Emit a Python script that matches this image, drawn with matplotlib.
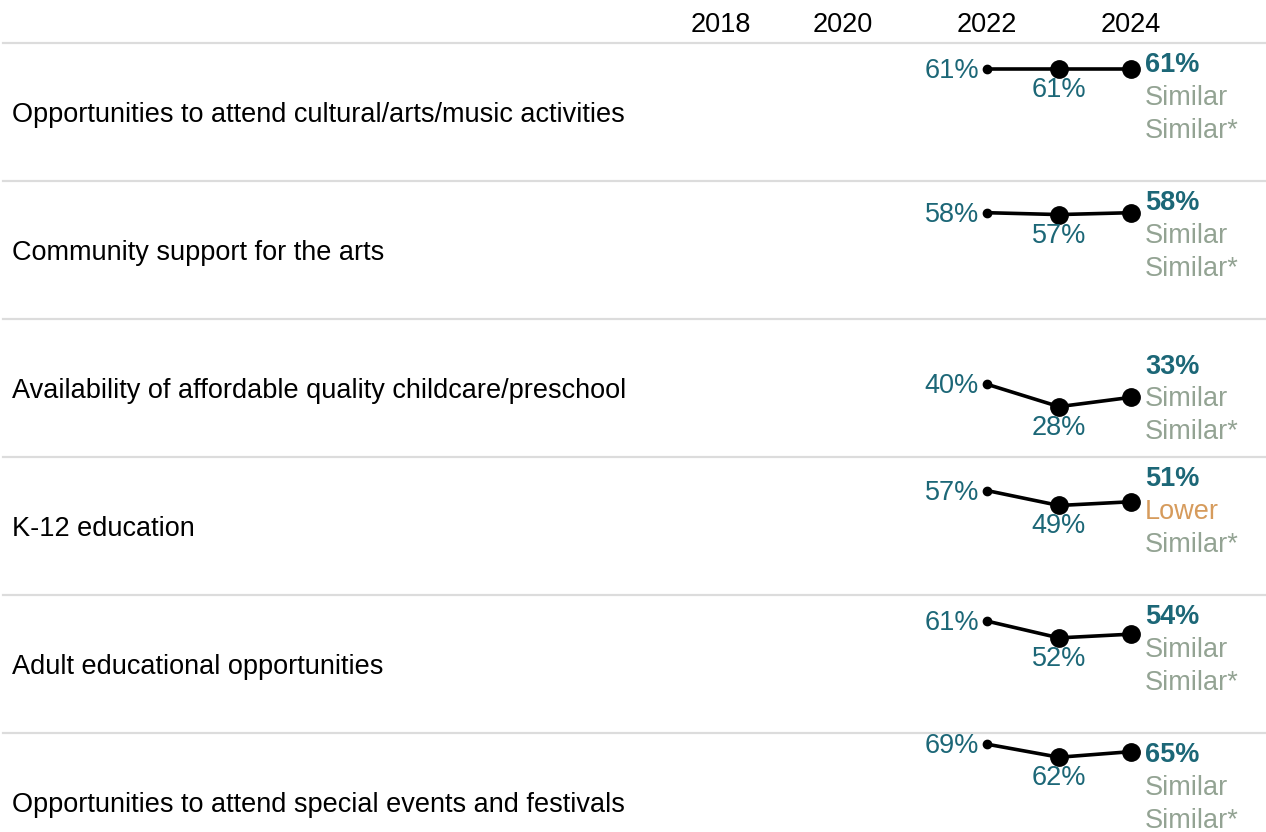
import matplotlib
matplotlib.use("Agg")
import matplotlib.pyplot as plt

plt.rcParams['font.family'] = ['Liberation Sans', 'DejaVu Sans']

categories = [
    "Opportunities to attend cultural/arts/music activities",
    "Community support for the arts",
    "Availability of affordable quality childcare/preschool",
    "K-12 education",
    "Adult educational opportunities",
    "Opportunities to attend special events and festivals",
]
years = [2022, 2023, 2024]
header_years = [2018, 2020, 2022, 2024]
v2022 = [61, 58, 40, 57, 61, 69]
v2023 = [61, 57, 28, 49, 52, 62]
v2024 = [61, 58, 33, 51, 54, 65]
comp1 = ["Similar", "Similar", "Similar", "Lower", "Similar", "Similar"]
comp2 = ["Similar*", "Similar*", "Similar*", "Similar*", "Similar*", "Similar*"]

W, H = 1266, 832
DPI = 100
fig = plt.figure(figsize=(W / DPI, H / DPI), dpi=DPI)

TEAL = "#1c6777"
GRAY = "#93a393"
ORANGE = "#d69b5c"
GRID = "#dcdcdc"
FS = 19.5

px_per_year = 72.0
x2022 = 987.0
xmin = 2022 - x2022 / px_per_year
xmax = xmin + W / px_per_year

header_h = 43
row_h = 138
ylo, yhi = 1.0, 75.0
px_per_unit = row_h / (yhi - ylo)
PT = 72 / DPI  # points per pixel

# Header axes
hax = fig.add_axes([0, (H - header_h) / H, 1, header_h / H])
hax.set_xlim(xmin, xmax)
hax.set_ylim(0, 1)
hax.axis('off')
for yr in header_years:
    if yr == header_years[0]:
        hax.annotate(str(yr), (yr, 0.5), xytext=(-8 * PT, -3 * PT), textcoords='offset points',
                     ha='left', va='center', fontsize=FS, color='black')
    else:
        hax.annotate(str(yr), (yr, 0.5), xytext=(0, -3 * PT), textcoords='offset points',
                     ha='center', va='center', fontsize=FS, color='black')

line_off_pt = 32.5 * PT

for i, cat in enumerate(categories):
    top = header_h + i * row_h
    bottom_frac = (H - top - row_h) / H
    ax = fig.add_axes([0, bottom_frac, 1, row_h / H])
    ax.set_xlim(xmin, xmax)
    ax.set_ylim(ylo, yhi)
    ax.axis('off')
    ax.axhline(yhi, color=GRID, lw=1.6, xmin=0.002, xmax=1, clip_on=False)
    ax.annotate(cat, (xmin, (ylo + yhi) / 2), xytext=(12 * PT, -3 * PT),
                textcoords='offset points', ha='left', va='center',
                fontsize=FS, color='black')
    vals = [v2022[i], v2023[i], v2024[i]]
    ax.plot(years, vals, color='black', lw=2.6, solid_capstyle='round', zorder=2)
    ax.plot(years[0], vals[0], 'o', color='black', ms=6, zorder=3)
    ax.plot(years[1:], vals[1:], 'o', color='black', ms=12.5, zorder=3)
    ax.annotate(f"{vals[0]}%", (years[0], vals[0]), xytext=(-8 * PT, -2 * PT),
                textcoords='offset points', ha='right', va='center',
                fontsize=FS, color=TEAL)
    ax.annotate(f"{vals[1]}%", (years[1], vals[1]), xytext=(0, -21 * PT),
                textcoords='offset points', ha='center', va='center',
                fontsize=FS, color=TEAL)
    clamp = yhi - (20 + 33) / px_per_unit
    cy = min(vals[2], clamp)
    ax.annotate(f"{vals[2]}%", (years[2], cy), xytext=(14 * PT, line_off_pt - 2 * PT),
                textcoords='offset points', ha='left', va='center',
                fontsize=FS, color=TEAL, fontweight='bold')
    c1 = ORANGE if comp1[i] == "Lower" else GRAY
    ax.annotate(comp1[i], (years[2], cy), xytext=(14 * PT, -2 * PT),
                textcoords='offset points', ha='left', va='center',
                fontsize=FS, color=c1)
    ax.annotate(comp2[i], (years[2], cy), xytext=(14 * PT, -line_off_pt - 2 * PT),
                textcoords='offset points', ha='left', va='center',
                fontsize=FS, color=GRAY)

fig.savefig("out.png", dpi=DPI)
